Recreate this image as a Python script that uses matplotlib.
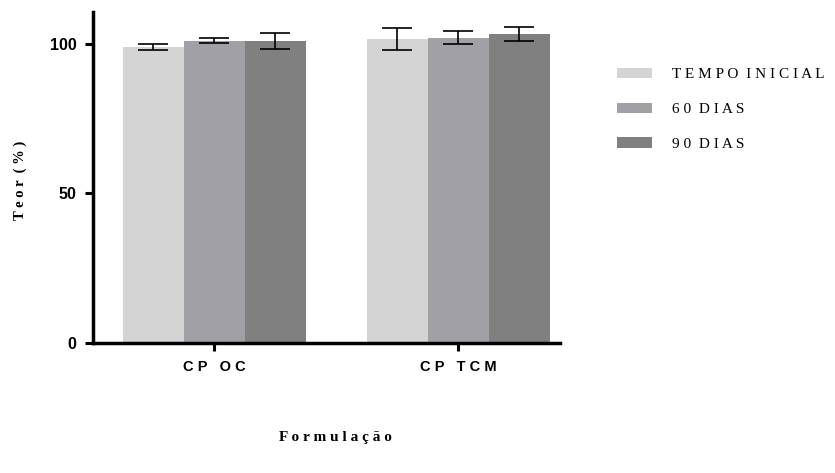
import numpy as np
import matplotlib
matplotlib.use("Agg")
import matplotlib.pyplot as plt

# data
formulacoes = ["C P   O C", "C P   T C M"]
series = ["T E M P O  I N I C I A L", "6 0  D I A S", "9 0  D I A S"]
tempo_inicial = [99.0, 101.7]
tempo_inicial_err = [1.0, 3.6]
dias_60 = [101.1, 102.1]
dias_60_err = [0.9, 2.1]
dias_90 = [101.1, 103.4]
dias_90_err = [2.7, 2.4]

colors = ["#d4d4d4", "#a1a0a4", "#808080"]

fig = plt.figure(figsize=(8.35, 4.73), dpi=100)
ax = fig.add_axes([93 / 835, 130 / 473, 467 / 835, 331 / 473])

x = np.arange(len(formulacoes))
width = 0.25
values = [tempo_inicial, dias_60, dias_90]
errors = [tempo_inicial_err, dias_60_err, dias_90_err]

for i, (vals, errs) in enumerate(zip(values, errors)):
    pos = x + (i - 1) * width
    ax.bar(pos, vals, width, color=colors[i], label=series[i], linewidth=0)
    ax.errorbar(pos, vals, yerr=errs, fmt="none", ecolor="black",
                elinewidth=1.2, capsize=11, capthick=1.2)

ax.set_xlim(-0.496, 1.418)
ax.set_ylim(0, 110.7)
ax.set_yticks([0, 50, 100])
ax.set_yticklabels(["0", "50", "100"], fontsize=11.5, fontweight="bold",
                   family="Liberation Sans")
ax.set_xticks(x)
ax.set_xticklabels(formulacoes, fontsize=10.5, fontweight="bold",
                   family="Liberation Sans")

for side in ["top", "right"]:
    ax.spines[side].set_visible(False)
for side in ["left", "bottom"]:
    ax.spines[side].set_linewidth(2.5)
ax.tick_params(axis="both", length=6, width=2.2, pad=6)

# axis titles placed in figure pixels
fig.text(20 / 835, 1 - 180 / 473, "T e o r  ( % )", fontsize=10.5,
         fontweight="bold", family="Liberation Serif", rotation=90,
         ha="center", va="center")
fig.text(335 / 835, 1 - 437 / 473, "F o r m u l a ç ã o", fontsize=11,
         fontweight="bold", family="Liberation Serif", ha="center", va="center")

handles, labels = ax.get_legend_handles_labels()
leg = fig.legend(handles[:3], labels[:3], loc="upper left",
                 bbox_to_anchor=(603 / 835, 1 - 54 / 473), frameon=False,
                 prop={"family": "Liberation Serif", "size": 11},
                 handlelength=2.3, handleheight=0.65, handletextpad=1.3,
                 labelspacing=1.4)

fig.savefig("out.png", dpi=100)
